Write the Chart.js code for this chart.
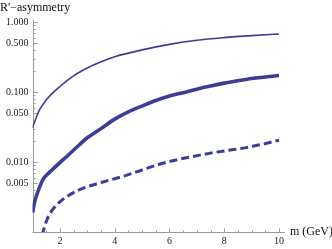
<!DOCTYPE html>
<html>
<head>
<meta charset="utf-8">
<script src="https://cdn.jsdelivr.net/npm/chart.js@4/dist/chart.umd.min.js"></script>
<style>
html,body{margin:0;padding:0;background:#fff;}
#wrap{width:332px;height:249px;position:relative;}
</style>
</head>
<body>
<div id="wrap"><canvas id="c" width="332" height="249"></canvas></div>
<script>
// ---- data ----
const topMass = [1.0, 1.25, 1.5, 2.0, 2.5, 3.0, 3.5, 4.0, 5.0, 6.0, 7.0, 8.0, 9.0, 10.0];
const topR    = [0.031, 0.055, 0.077, 0.12, 0.17, 0.22, 0.27, 0.32, 0.40, 0.48, 0.55, 0.60, 0.64, 0.675];

const midMass = [1.0, 1.1, 1.22, 1.4, 1.6, 1.8, 2.0, 2.3, 2.7, 3.0, 3.5, 4.0, 4.5, 5.0, 5.5, 6.0, 6.5, 7.0, 7.5, 8.0, 8.5, 9.0, 9.5, 10.0];
const midR    = [0.0019, 0.0029, 0.0040, 0.0058, 0.0070, 0.0083, 0.0098, 0.0125, 0.0175, 0.0222, 0.030, 0.041, 0.052, 0.063, 0.0756, 0.0877, 0.098, 0.110, 0.122, 0.134, 0.145, 0.156, 0.164, 0.172];

const dashMass = [1.35, 1.5, 1.66, 2.0, 2.3, 2.7, 3.2, 3.8, 4.4, 5.0, 5.6, 6.2, 6.8, 7.5, 8.1, 8.7, 9.3, 10.0];
const dashR    = [0.0009, 0.0014, 0.0019, 0.0027, 0.0033, 0.0040, 0.0047, 0.0055, 0.0064, 0.0077, 0.0092, 0.0106, 0.0119, 0.0134, 0.0146, 0.0158, 0.0176, 0.0205];

const yTickLabels = ["1.000", "0.500", "0.100", "0.050", "0.010", "0.005"];
const yTickValues = [1, 0.5, 0.1, 0.05, 0.01, 0.005];
const xTickLabels = ["2", "4", "6", "8", "10"];
const xTickValues = [2, 4, 6, 8, 10];
const yTitle = "R'\u2212asymmetry";
const xTitle = "m (GeV)";

// ---- build ----
const pts = (xs, ys) => xs.map((x, i) => ({x: x, y: ys[i]}));
const LINE = '#3d3d99';
const FONT = '"Liberation Serif", "DejaVu Serif", serif';

const axesPlugin = {
  id: 'mmaAxes',
  beforeDatasetsDraw(chart) {
    const ctx = chart.ctx, xs = chart.scales.x, ys = chart.scales.y;
    const x0 = xs.getPixelForValue(xs.min), x1 = xs.getPixelForValue(xs.max);
    const y0 = ys.getPixelForValue(ys.min), y1 = ys.getPixelForValue(ys.max);
    ctx.save();
    ctx.strokeStyle = '#9a9a9a';
    ctx.lineWidth = 1;
    ctx.beginPath();
    ctx.moveTo(Math.round(x0) + 0.5, y0); ctx.lineTo(Math.round(x0) + 0.5, y1);
    ctx.moveTo(x0, Math.round(y0) + 0.5); ctx.lineTo(x1, Math.round(y0) + 0.5);
    ctx.stroke();
    // y ticks (inward)
    ctx.beginPath();
    for (let d = -3; d <= 0; d++) {
      for (let k = 1; k <= 9; k++) {
        const v = k * Math.pow(10, d);
        if (v < ys.min * 0.999 || v > ys.max) continue;
        const py = Math.round(ys.getPixelForValue(v)) + 0.5;
        const major = yTickValues.some(t => Math.abs(t - v) / v < 1e-6);
        const len = major ? 4 : 2;
        ctx.moveTo(Math.round(x0) + 0.5, py); ctx.lineTo(Math.round(x0) + 0.5 + len, py);
      }
    }
    // x ticks (inward)
    for (let m = 1; m <= 10.001; m += 0.5) {
      const px = Math.round(xs.getPixelForValue(m)) + 0.5;
      const major = xTickValues.some(t => Math.abs(t - m) < 1e-6);
      const len = major ? 4 : 2;
      ctx.moveTo(px, Math.round(y0) + 0.5); ctx.lineTo(px, Math.round(y0) + 0.5 - len);
    }
    ctx.stroke();
    // labels
    ctx.fillStyle = '#222';
    ctx.font = '10px ' + FONT;
    ctx.textAlign = 'right'; ctx.textBaseline = 'middle';
    yTickValues.forEach((v, i) => {
      ctx.fillText(yTickLabels[i], x0 - 4, ys.getPixelForValue(v));
    });
    ctx.textAlign = 'center'; ctx.textBaseline = 'top';
    xTickValues.forEach((v, i) => {
      ctx.fillText(xTickLabels[i], xs.getPixelForValue(v), y0 + 4);
    });
    ctx.font = '12px ' + FONT;
    ctx.fillStyle = '#111';
    ctx.textAlign = 'left'; ctx.textBaseline = 'middle';
    ctx.fillText(yTitle, 0, 8);
    ctx.fillText(xTitle, x1 + 5, y0);
    ctx.restore();
  }
};

new Chart(document.getElementById('c'), {
  type: 'line',
  data: {
    datasets: [
      {data: pts(topMass, topR), borderColor: LINE, borderWidth: 1.6, pointRadius: 0, fill: false, cubicInterpolationMode: 'monotone'},
      {data: pts(midMass, midR), borderColor: LINE, borderWidth: 3.6, pointRadius: 0, fill: false, cubicInterpolationMode: 'monotone'},
      {data: pts(dashMass, dashR), borderColor: LINE, borderWidth: 3, borderDash: [8, 4], pointRadius: 0, fill: false, cubicInterpolationMode: 'monotone'}
    ]
  },
  options: {
    responsive: false,
    animation: false,
    devicePixelRatio: 1,
    layout: {padding: {left: 32.5, right: 47, top: 20, bottom: 17}},
    plugins: {legend: {display: false}, tooltip: {enabled: false}},
    scales: {
      x: {type: 'linear', min: 1, max: 10.22, display: false},
      y: {type: 'logarithmic', min: 0.001, max: 1.07, display: false}
    }
  },
  plugins: [axesPlugin]
});
</script>
</body>
</html>
